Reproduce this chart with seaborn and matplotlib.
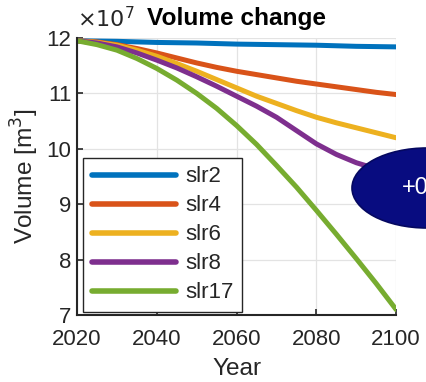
import numpy as np
import pandas as pd
import seaborn as sns
import matplotlib.pyplot as plt
from matplotlib.patches import Ellipse

# values (volume in units of 1e7 m^3)
years = [2020, 2025, 2030, 2035, 2040, 2045, 2050, 2055, 2060,
         2065, 2070, 2075, 2080, 2085, 2090, 2095, 2100]
slr2 = [11.95, 11.945, 11.94, 11.93, 11.92, 11.915, 11.91, 11.90, 11.89,
        11.885, 11.88, 11.875, 11.87, 11.86, 11.85, 11.845, 11.84]
slr4 = [11.95, 11.93, 11.88, 11.81, 11.73, 11.64, 11.55, 11.47, 11.40,
        11.34, 11.28, 11.22, 11.17, 11.12, 11.07, 11.02, 10.98]
slr6 = [11.95, 11.92, 11.87, 11.78, 11.67, 11.54, 11.40, 11.25, 11.10,
        10.95, 10.82, 10.69, 10.57, 10.47, 10.38, 10.29, 10.20]
slr8 = [11.95, 11.91, 11.84, 11.73, 11.60, 11.46, 11.30, 11.13, 10.95,
        10.77, 10.57, 10.33, 10.09, 9.90, 9.75, 9.64, 9.54]
slr17 = [11.95, 11.88, 11.78, 11.63, 11.45, 11.24, 11.00, 10.73, 10.42,
         10.08, 9.70, 9.31, 8.89, 8.46, 8.02, 7.57, 7.10]
scenarios = ["slr2", "slr4", "slr6", "slr8", "slr17"]
colors = ["#0072BD", "#D95319", "#EDB120", "#7E2F8E", "#77AC30"]

df = pd.DataFrame({"Year": years, "slr2": slr2, "slr4": slr4, "slr6": slr6,
                   "slr8": slr8, "slr17": slr17})
df = df.melt(id_vars="Year", var_name="scenario", value_name="Volume")

sns.set_style("whitegrid")
plt.rcParams['font.family'] = ['Liberation Sans', 'DejaVu Sans']

fig = plt.figure(figsize=(4.26, 3.82), dpi=100)
ax = fig.add_axes([0.181, 0.175, 0.749, 0.7255])

sns.lineplot(data=df, x="Year", y="Volume", hue="scenario", hue_order=scenarios,
             palette=colors, linewidth=3.6, ax=ax)

ax.set_xlim(2020, 2100)
ax.set_ylim(7, 12)
ax.set_xticks([2020, 2040, 2060, 2080, 2100])
ax.set_yticks([7, 8, 9, 10, 11, 12])
ax.tick_params(labelsize=16, direction="in", length=4, width=1.2, color="#262626",
               left=True, bottom=True, labelcolor="#262626")
ax.tick_params(axis="x", pad=10)
ax.tick_params(axis="y", pad=4)
for s in ["top", "right"]:
    ax.spines[s].set_visible(False)
for s in ["left", "bottom"]:
    ax.spines[s].set_color("#262626")
    ax.spines[s].set_linewidth(1.5)
ax.grid(color="#e3e3e3", linewidth=0.9)

ax.set_xlabel("Year", fontsize=17.6, labelpad=6, color="#262626")
ax.set_ylabel("Volume [m$^3$]", fontsize=17.6, labelpad=4, color="#262626")
ax.set_title("Volume change", fontsize=17.6, fontweight="bold", pad=9.5,
             color="black")
ax.text(0.0, 1.022, r"$\times10^7$", transform=ax.transAxes, fontsize=16,
        ha="left", va="bottom", color="#262626")

leg = ax.legend(loc="lower left", bbox_to_anchor=(0.018, 0.01), fontsize=16,
                frameon=True, fancybox=False, edgecolor="#262626",
                handlelength=3.8, labelspacing=0.36, borderpad=0.4,
                handletextpad=0.4, borderaxespad=0)
leg.get_frame().set_linewidth(1.0)
leg.get_frame().set_alpha(1)
for line in leg.get_lines():
    line.set_linewidth(4)

# navy callout bubble cut off by the right edge
bubble = Ellipse((427 / 426, 1 - 188 / 382), 150 / 426, 80 / 382,
                 transform=fig.transFigure, facecolor="#080c80",
                 edgecolor="#050860", linewidth=1.2, zorder=10)
fig.patches.append(bubble)
fig.text(402 / 426, 1 - 188 / 382, "+0", color="white", fontsize=17,
         ha="left", va="center", zorder=11)

fig.savefig("out.png", dpi=100)
